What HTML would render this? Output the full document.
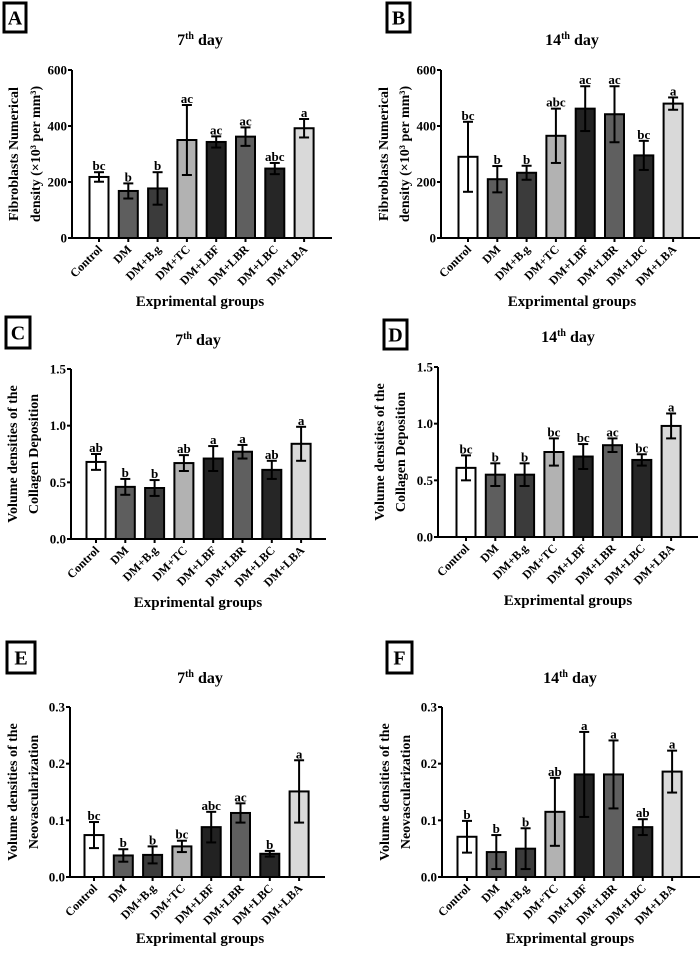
<!DOCTYPE html>
<html><head><meta charset="utf-8"><style>
body{margin:0;background:#fff}
svg{display:block;font-family:"Liberation Serif",serif;font-weight:bold}
</style></head><body>
<svg id="fig" width="700" height="953" viewBox="0 0 700 953" xmlns="http://www.w3.org/2000/svg"></svg>
<script>
const categories=["Control","DM","DM+B.g","DM+TC","DM+LBF","DM+LBR","DM+LBC","DM+LBA"];
const barColors=["#ffffff","#5e5e5e","#3b3b3b","#b2b2b2","#222222","#5f5f5f","#262626","#d9d9d9"];
const valuesA=[218,168,177,350,343,362,248,392];
const errA=[17,27,58,125,20,33,20,33];
const sigA=["bc","b","b","ac","ac","ac","abc","a"];
const valuesB=[290,210,233,365,462,442,295,480];
const errB=[125,47,25,97,80,100,52,22];
const sigB=["bc","b","b","abc","ac","ac","bc","a"];
const valuesC=[0.68,0.46,0.45,0.67,0.71,0.77,0.61,0.84];
const errC=[0.07,0.07,0.07,0.07,0.11,0.06,0.08,0.15];
const sigC=["ab","b","b","ab","a","a","ab","a"];
const valuesD=[0.61,0.55,0.55,0.75,0.71,0.81,0.68,0.98];
const errD=[0.11,0.10,0.10,0.12,0.11,0.06,0.05,0.11];
const sigD=["bc","b","b","bc","bc","ac","bc","a"];
const valuesE=[0.074,0.038,0.039,0.054,0.088,0.113,0.041,0.151];
const errE=[0.023,0.011,0.015,0.010,0.027,0.017,0.005,0.055];
const sigE=["bc","b","b","bc","abc","ac","b","a"];
const valuesF=[0.071,0.044,0.050,0.115,0.181,0.181,0.088,0.186];
const errF=[0.028,0.030,0.036,0.060,0.075,0.060,0.014,0.037];
const sigF=["b","b","b","ab","a","a","ab","a"];
const ticksFib=["0","200","400","600"];
const ticksCol=["0.0","0.5","1.0","1.5"];
const ticksNeo=["0.0","0.1","0.2","0.3"];

const NS="http://www.w3.org/2000/svg";
const svg=document.getElementById('fig');
function mk(tag,attrs,parent,text){const e=document.createElementNS(NS,tag);for(const k in attrs)e.setAttribute(k,attrs[k]);if(text!==undefined)e.textContent=text;(parent||svg).appendChild(e);return e;}

const panels=[
 {id:"A",vals:valuesA,err:errA,sig:sigA,ticks:ticksFib,max:600,ax:72,top:70,zero:238,b0:99,xend:332,box:[4,3,22,29],tx:200,ty:45,day:"7",xl:306,yl:["Fibroblasts Numerical","density (×10³ per mm³)"],ylx:[15,37]},
 {id:"B",vals:valuesB,err:errB,sig:sigB,ticks:ticksFib,max:600,ax:441,top:70,zero:238,b0:468,xend:700,box:[387,3,23,29],tx:572,ty:45,day:"14",xl:306,yl:["Fibroblasts Numerical","density (×10³ per mm³)"],ylx:[385,406]},
 {id:"C",vals:valuesC,err:errC,sig:sigC,ticks:ticksCol,max:1.5,ax:71,top:369,zero:539,b0:96,xend:326,box:[6,317,24,31],tx:198,ty:345,day:"7",xl:607,yl:["Volume densities of the","Collagen Deposition"],ylx:[14,35]},
 {id:"D",vals:valuesD,err:errD,sig:sigD,ticks:ticksCol,max:1.5,ax:438,top:367,zero:537,b0:466,xend:698,box:[384,320,23,29],tx:568,ty:342,day:"14",xl:605,yl:["Volume densities of the","Collagen Deposition"],ylx:[381,402]},
 {id:"E",vals:valuesE,err:errE,sig:sigE,ticks:ticksNeo,max:0.3,ax:70,top:707,zero:877,b0:94,xend:325,box:[7,642,28,31],tx:200,ty:683,day:"7",xl:943,yl:["Volume densities of the","Neovascularization"],ylx:[14,35]},
 {id:"F",vals:valuesF,err:errF,sig:sigF,ticks:ticksNeo,max:0.3,ax:442,top:707,zero:877,b0:467,xend:700,box:[387,642,25,31],tx:570,ty:683,day:"14",xl:943,yl:["Volume densities of the","Neovascularization"],ylx:[386,407]}
];
const step=29.3,bw=19;
panels.forEach(p=>{
 const g=mk('g',{});
 
 
 const y=v=>p.zero-(v/p.max)*(p.zero-p.top);
 const x=i=>p.b0+i*step;
 const bx=mk('rect',{x:p.box[0],y:p.box[1],width:p.box[2],height:p.box[3],fill:'#fff',stroke:'#000','stroke-width':3},g);
 
 const lt=mk('text',{x:p.box[0]+p.box[2]/2,y:p.box[1]+p.box[3]/2+7,'text-anchor':'middle','font-size':20},g,p.id);
 
 const t=mk('text',{x:p.tx,y:p.ty,'text-anchor':'middle','font-size':16},g);
 
 mk('tspan',{},t,p.day);mk('tspan',{'font-size':10,dy:-6},t,'th');mk('tspan',{dy:6},t,' day');
 const ya=mk('line',{x1:p.ax,y1:p.top,x2:p.ax,y2:p.zero+1,stroke:'#000','stroke-width':2},g);
 
 p.ticks.forEach((tk,i)=>{
  const v=p.max*i/(p.ticks.length-1);
  mk('line',{x1:p.ax-4,y1:y(v),x2:p.ax,y2:y(v),stroke:'#000','stroke-width':2},g);
  const tl=mk('text',{x:p.ax-5,y:y(v)+4.5,'text-anchor':'end','font-size':13},g,tk);
  
 });
 const cy=(p.top+p.zero)/2;
 p.yl.forEach((s,i)=>{
  const e=mk('text',{x:p.ylx[i],y:cy,'text-anchor':'middle','font-size':14,transform:`rotate(-90 ${p.ylx[i]} ${cy})`,'dominant-baseline':'middle'},g,s);
  
 });
 p.vals.forEach((v,i)=>{
  const r=mk('rect',{x:x(i)-bw/2,y:y(v),width:bw,height:p.zero-y(v),fill:barColors[i],stroke:'#000','stroke-width':2},g);
  
  
  const hi=y(v+p.err[i]),lo=y(v-p.err[i]);
  mk('line',{x1:x(i),y1:hi,x2:x(i),y2:lo,stroke:'#000','stroke-width':2},g);
  mk('line',{x1:x(i)-5,y1:hi,x2:x(i)+5,y2:hi,stroke:'#000','stroke-width':2},g);
  mk('line',{x1:x(i)-5,y1:lo,x2:x(i)+5,y2:lo,stroke:'#000','stroke-width':2},g);
  const sl=mk('text',{x:x(i),y:hi-2,'text-anchor':'middle','font-size':13},g,p.sig[i]);
  
  mk('line',{x1:x(i),y1:p.zero,x2:x(i),y2:p.zero+4,stroke:'#000','stroke-width':2},g);
  const xl=mk('text',{x:x(i)+4,y:p.zero+12,'text-anchor':'end','font-size':12,transform:`rotate(-45 ${x(i)+4} ${p.zero+12})`},g,categories[i]);
  
 });
 const xa=mk('line',{x1:p.ax-1,y1:p.zero,x2:p.xend,y2:p.zero,stroke:'#000','stroke-width':2},g);
 
 const xt=mk('text',{x:p.tx,y:p.xl,'text-anchor':'middle','font-size':15},g,'Exprimental groups');
 
});
</script>
</body></html>
